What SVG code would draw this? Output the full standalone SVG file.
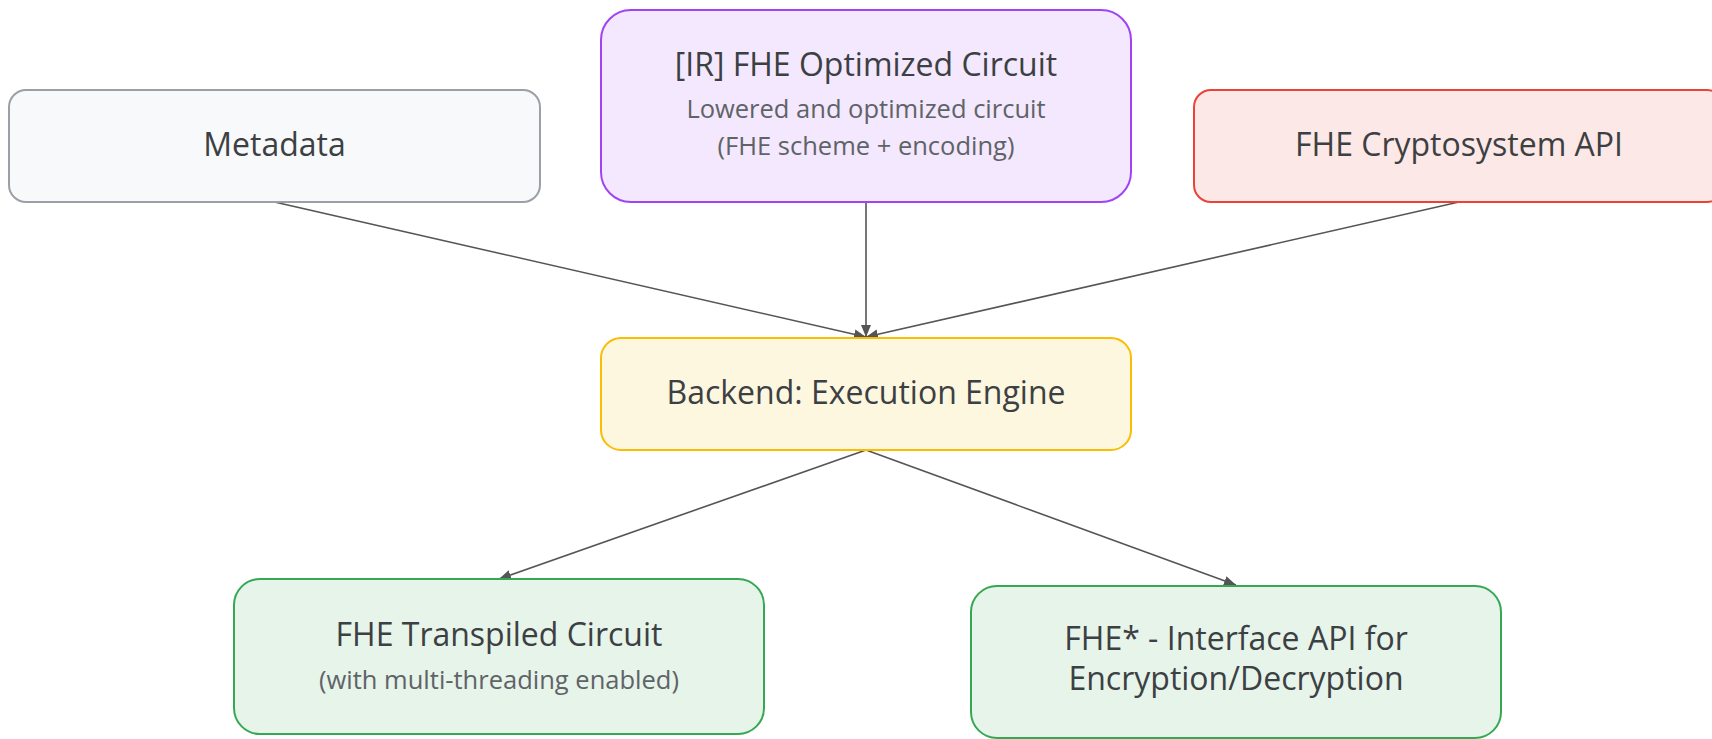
<svg xmlns="http://www.w3.org/2000/svg" width="1712" height="739" viewBox="0 0 1712 739">
  <style>
    .box { stroke-width: 2; }
    .grey { fill: #f8f9fa; stroke: #9aa0a6; }
    .purple { fill: #f3e8fd; stroke: #a142f4; }
    .red { fill: #fce8e6; stroke: #ea4335; }
    .yellow { fill: #fef7e0; stroke: #fbbc04; }
    .green { fill: #e6f4ea; stroke: #34a853; }
    .title { font-family: "Open Sans", Roboto, "Liberation Sans", sans-serif; font-size: 32px; fill: #3c4043; text-anchor: middle; }
    .sub { font-family: "Open Sans", Roboto, "Liberation Sans", sans-serif; font-size: 25.5px; fill: #5f6368; text-anchor: middle; }
    .edge { stroke: #555555; stroke-width: 1.6; fill: none; marker-end: url(#arrow); }
  </style>
  <defs>
    <marker id="arrow" viewBox="0 0 12 10" refX="12" refY="5" markerWidth="12" markerHeight="10" markerUnits="userSpaceOnUse" orient="auto">
      <path d="M0,0 L12,5 L0,10 Z" fill="#555555"/>
    </marker>
  </defs>
  <rect width="1712" height="739" fill="#ffffff"/>

  <g id="connectors">
    <line class="edge" x1="274.5" y1="202" x2="866" y2="337"/>
    <line class="edge" x1="866" y1="202" x2="866" y2="337"/>
    <line class="edge" x1="1459" y1="202" x2="866" y2="337"/>
    <line class="edge" x1="866" y1="450" x2="499" y2="579"/>
    <line class="edge" x1="866" y1="450" x2="1236" y2="585"/>
  </g>

  <g id="metadata">
    <rect class="box grey" x="9" y="90" width="531" height="112" rx="17"/>
    <text class="title" x="274.5" y="156">Metadata</text>
  </g>

  <g id="ir-circuit">
    <rect class="box purple" x="601" y="10" width="530" height="192" rx="30"/>
    <text class="title" x="866" y="76">[IR] FHE Optimized Circuit</text>
    <text class="sub" x="866" y="118">Lowered and optimized circuit</text>
    <text class="sub" x="866" y="155">(FHE scheme + encoding)</text>
  </g>

  <g id="crypto-api">
    <rect class="box red" x="1194" y="90" width="530" height="112" rx="17"/>
    <text class="title" x="1459" y="156">FHE Cryptosystem API</text>
  </g>

  <g id="backend">
    <rect class="box yellow" x="601" y="338" width="530" height="112" rx="20"/>
    <text class="title" x="866" y="404">Backend: Execution Engine</text>
  </g>

  <g id="transpiled">
    <rect class="box green" x="234" y="579" width="530" height="155" rx="26"/>
    <text class="title" x="499" y="646">FHE Transpiled Circuit</text>
    <text class="sub" x="499" y="689">(with multi-threading enabled)</text>
  </g>

  <g id="interface-api">
    <rect class="box green" x="971" y="586" width="530" height="152" rx="26"/>
    <text class="title" x="1236" y="650">FHE* - Interface API for</text>
    <text class="title" x="1236" y="690">Encryption/Decryption</text>
  </g>
</svg>
